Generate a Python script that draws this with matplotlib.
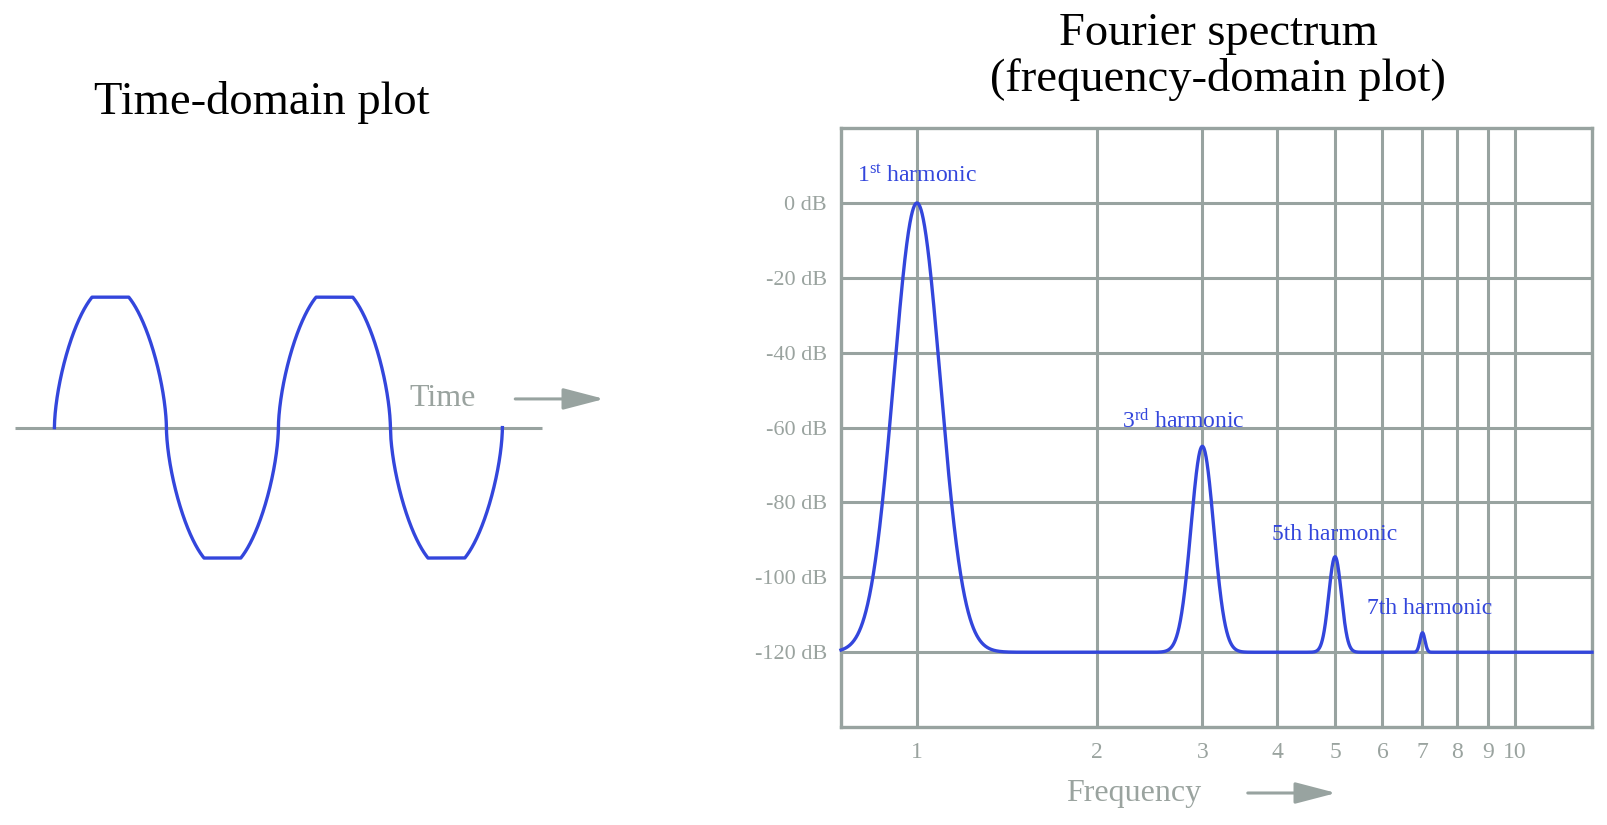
import numpy as np
import matplotlib
matplotlib.use("Agg")
import matplotlib.pyplot as plt
from matplotlib.patches import FancyArrowPatch

plt.rcParams['font.family'] = ['Liberation Serif', 'DejaVu Serif']
plt.rcParams['mathtext.fontset'] = 'custom'
plt.rcParams['mathtext.rm'] = 'Liberation Serif'
plt.rcParams['mathtext.it'] = 'Liberation Serif:italic'

# ---- data ----
# time domain: rounded, clipped wave over 2 periods
periods = 2.0
wave_amp = 0.935
wave_exponent = 0.6
clip_level = 0.86
# spectrum
harmonic_freqs = [1, 3, 5, 7]
harmonic_peak_db = [0, -65, -94.5, -114.8]
harmonic_width_log = [0.039, 0.019, 0.0105, 0.0042]   # gaussian sigma in log10(f)
noise_floor_db = -120
harmonic_labels = [r"1$^{\mathrm{st}}$ harmonic", r"3$^{\mathrm{rd}}$ harmonic",
                   "5th harmonic", "7th harmonic"]
label_x = [0.795, 2.20, 3.92, 5.66]
label_y = [7.1, -58.1, -88.5, -108.2]
y_ticks = [0, -20, -40, -60, -80, -100, -120]
y_tick_labels = ["0 dB", "-20 dB", "-40 dB", "-60 dB", "-80 dB", "-100 dB", "-120 dB"]
x_ticks = [1, 2, 3, 4, 5, 6, 7, 8, 9, 10]
x_tick_labels = [str(v) for v in x_ticks]

BLUE = '#3346dc'
GRAY = '#98a3a0'
TGRAY = '#9aa39f'

W, H = 1608, 825
fig = plt.figure(figsize=(W / 100, H / 100), dpi=100)

ARROW = '-|>,head_length=1.15,head_width=0.3'

# ---- left: time domain ----
axl = fig.add_axes([9.6 / W, 215.4 / H, 627.2 / W, 364 / H])
axl.set_xlim(-0.2, 2.6)
axl.set_ylim(-1.2, 1.2)
axl.axis('off')
t = np.linspace(0, periods, 4000)
s = np.sin(2 * np.pi * t)
wave = np.clip(wave_amp * np.sign(s) * np.abs(s) ** wave_exponent, -clip_level, clip_level)
axl.plot([-0.174, 2.179], [0, 0], color=GRAY, lw=2.2, solid_capstyle='butt', zorder=1)
axl.plot(t, wave, color=BLUE, lw=2.4, zorder=2)
axl.text(1.735, 0.189, "Time", color=TGRAY, fontsize=23, ha='center', va='center')
axl.add_patch(FancyArrowPatch((2.045, 0.189), (2.467, 0.189), arrowstyle=ARROW,
                              color=GRAY, lw=2.2, mutation_scale=22, clip_on=False))
fig.text(262 / W, 1 - 103 / H, "Time-domain plot", fontsize=33.5, ha='center', va='center')

# ---- right: spectrum ----
axr = fig.add_axes([841 / W, (H - 727.1) / H, 751 / W, 599 / H])
axr.set_xscale('log')
xmin, xmax = 10 ** -0.127, 10 ** 1.1285
axr.set_xlim(xmin, xmax)
axr.set_ylim(-140, 20)
f = np.logspace(np.log10(xmin), np.log10(xmax), 4000)
lf = np.log10(f)
spec = np.full_like(f, float(noise_floor_db))
for fc, pk, sg in zip(harmonic_freqs, harmonic_peak_db, harmonic_width_log):
    spec += (pk - noise_floor_db) * np.exp(-(lf - np.log10(fc)) ** 2 / (2 * sg ** 2))
for v in x_ticks:
    axr.axvline(v, color=GRAY, lw=2.2, zorder=1)
for v in y_ticks:
    axr.axhline(v, color=GRAY, lw=2.2, zorder=1)
axr.plot(f, spec, color=BLUE, lw=2.4, zorder=3, clip_on=False)
for sp in axr.spines.values():
    sp.set_color(GRAY)
    sp.set_linewidth(2.4)
axr.set_yticks(y_ticks)
axr.set_yticklabels(y_tick_labels)
axr.set_xticks(x_ticks)
axr.set_xticklabels(x_tick_labels)
axr.xaxis.set_minor_locator(matplotlib.ticker.NullLocator())
axr.tick_params(axis='both', length=0, colors=TGRAY)
axr.tick_params(axis='y', pad=10, labelsize=16)
axr.tick_params(axis='x', pad=11, labelsize=17)
for lx, ly, lab in zip(label_x, label_y, harmonic_labels):
    axr.text(lx, ly, lab, color=BLUE, fontsize=17, ha='left', va='center')
fig.text(1134 / W, 1 - 793 / H, "Frequency", color=TGRAY, fontsize=23, ha='center', va='center')
fig.add_artist(FancyArrowPatch(
    (1245 / W, 1 - 793 / H), (1339 / W, 1 - 793 / H), transform=fig.transFigure,
    arrowstyle=ARROW, color=GRAY, lw=2.2, mutation_scale=22))
fig.text(1218 / W, 1 - 57 / H, "Fourier spectrum\n(frequency-domain plot)",
         fontsize=33.5, ha='center', va='center', linespacing=1.08)

fig.savefig("out.png", dpi=100)
